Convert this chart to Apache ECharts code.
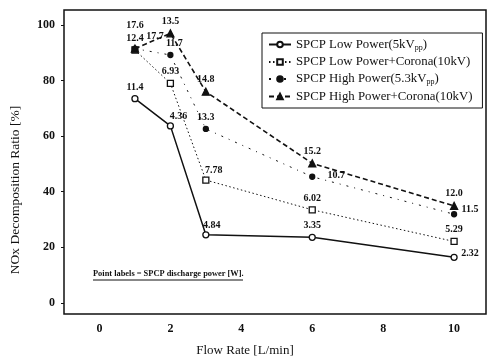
<!DOCTYPE html>
<html>
<head>
<meta charset="utf-8">
<script src="https://cdn.jsdelivr.net/npm/echarts@6/dist/echarts.min.js"></script>
<style>
  html, body { margin: 0; padding: 0; background: #fff; }
  #chart { width: 488px; height: 363px; }
</style>
</head>
<body>
<div id="chart"></div>
<script>
// flow rate [L/min]
const flow = [1, 2, 3, 6, 10];

// NOx decomposition ratio [%]
const lowPower = [73.5, 63.7, 24.5, 23.6, 16.4];
const lowCorona = [91.0, 79.0, 44.2, 33.5, 22.1];
const highPower = [91.5, 89.2, 62.6, 45.4, 31.9];
const highCorona = [91.5, 97.0, 76.0, 50.2, 34.9];

// point labels = SPCP discharge power [W]
const lowPowerW = ['11.4', '4.36', '4.84', '3.35', '2.32'];
const lowCoronaW = ['12.4', '6.93', '7.78', '6.02', '5.29'];
const highPowerW = ['17.6', '11.7', '13.3', '10.7', '11.5'];
const highCoronaW = ['17.7', '13.5', '14.8', '15.2', '12.0'];

const xTicks = [0, 2, 4, 6, 8, 10];
const yTicks = [0, 20, 40, 60, 80, 100];

const names = [
    'SPCP Low Power(5kVpp)',
    'SPCP Low Power+Corona(10kV)',
    'SPCP High Power(5.3kVpp)',
    'SPCP High Power+Corona(10kV)'
];

const serif = 'Liberation Serif';

// label placement per point: [dx, dy] relative to 'top'
const offLow = [[0, 0], [8, 2], [6, 2], [0, 0], [16, 8]];
const offCorona = [[0, 0], [0, 0], [8, 2], [0, 0], [0, 0]];
const offHigh = [[0, -12], [4, 0], [0, 0], [24, 10], [16, 6]];
const offHighC = [[20, 0], [0, 0], [0, 0], [0, 0], [0, 0]];

function points(xs, ys, labs, offs) {
    return xs.map((x, i) => ({
        value: [x, ys[i], labs[i]],
        label: { offset: offs[i] }
    }));
}

const chart = echarts.init(document.getElementById('chart'));

const labelStyle = {
    show: true,
    position: 'top',
    distance: 3,
    formatter: p => p.value[2],
    fontFamily: serif,
    fontSize: 10,
    fontWeight: 'bold',
    color: '#111'
};

function serie(name, xs, ys, labs, offs, symbol, size, lineType, width, filled) {
    return {
        name: name,
        type: 'line',
        data: points(xs, ys, labs, offs),
        symbol: symbol,
        symbolSize: size,
        showAllSymbol: true,
        label: labelStyle,
        lineStyle: { color: '#111', width: width, type: lineType },
        itemStyle: {
            color: filled ? '#111' : '#fff',
            borderColor: '#111',
            borderWidth: 1.3
        },
        emphasis: { disabled: true },
        z: 3
    };
}

const option = {
    animation: false,
    grid: {
        left: 62, top: 10, right: 2, bottom: 49,
        show: true, borderColor: '#111', borderWidth: 1.5
    },
    legend: {
        orient: 'vertical',
        left: 262,
        top: 33,
        padding: [5, 10, 5, 6],
        itemGap: 4,
        itemWidth: 22,
        itemHeight: 7,
        borderColor: '#111',
        borderWidth: 1,
        backgroundColor: '#fff',
        data: names,
        formatter: n => {
            const m = n.match(/^(.*kV)pp\)$/);
            return m ? '{a|' + m[1] + '}{s|pp}{a|)}' : '{a|' + n + '}';
        },
        textStyle: {
            rich: {
                a: { fontFamily: serif, fontSize: 12.8, color: '#111' },
                s: { fontFamily: serif, fontSize: 8, color: '#111', verticalAlign: 'bottom', padding: [6, 0, 0, 0] }
            }
        }
    },
    xAxis: {
        type: 'value',
        min: -1,
        max: 10.9,
        name: 'Flow Rate [L/min]',
        nameLocation: 'middle',
        nameGap: 30,
        nameTextStyle: { fontFamily: serif, fontSize: 13, color: '#111', padding: [0, 60, 0, 0] },
        axisLine: { show: false, onZero: false },
        splitLine: { show: false },
        axisTick: { show: false },
        axisLabel: {
            customValues: xTicks,
            margin: 9,
            fontFamily: serif,
            fontSize: 12,
            fontWeight: 'bold',
            color: '#111'
        }
    },
    yAxis: {
        type: 'value',
        min: -4,
        max: 105.4,
        name: 'NOx Decomposition Ratio [%]',
        nameLocation: 'middle',
        nameGap: 42,
        nameTextStyle: { fontFamily: serif, fontSize: 13.5, color: '#111', padding: [0, 56, 0, 0] },
        axisLine: { show: false, onZero: false },
        splitLine: { show: false },
        axisTick: { show: true, customValues: yTicks, length: 3, lineStyle: { color: '#111' } },
        axisLabel: {
            customValues: yTicks,
            margin: 9,
            fontFamily: serif,
            fontSize: 12,
            fontWeight: 'bold',
            color: '#111'
        }
    },
    graphic: [
        {
            type: 'text',
            left: 93,
            top: 270,
            style: {
                text: 'Point labels = SPCP discharge power [W].',
                font: 'bold 8.4px "Liberation Serif"',
                fill: '#111'
            }
        },
        {
            type: 'line',
            shape: { x1: 93, y1: 280, x2: 243, y2: 280 },
            style: { stroke: '#111', lineWidth: 1 }
        }
    ],
    series: [
        serie(names[0], flow, lowPower, lowPowerW, offLow, 'circle', 6, 'solid', 1.5, false),
        serie(names[1], flow, lowCorona, lowCoronaW, offCorona, 'rect', 6, [1.5, 2.5], 1, false),
        serie(names[2], flow, highPower, highPowerW, offHigh, 'circle', 5, [2, 6, 1, 6], 1, true),
        serie(names[3], flow, highCorona, highCoronaW, offHighC, 'triangle', 7, [5, 3], 1.6, true)
    ]
};

chart.setOption(option);
window.addEventListener('resize', () => chart.resize());
</script>
</body>
</html>
